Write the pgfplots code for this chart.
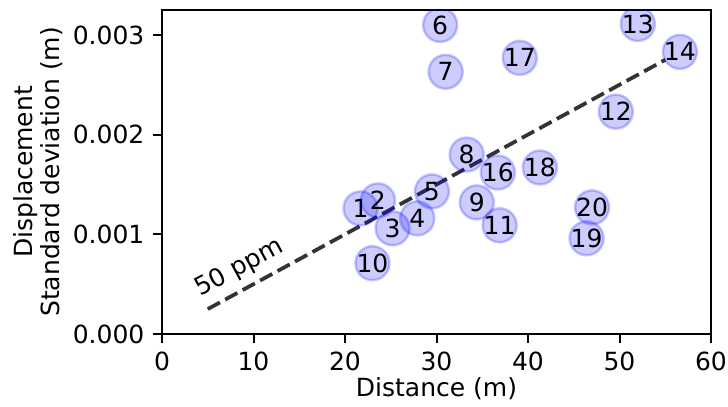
\documentclass[border=0pt]{standalone}
\usepackage{pgfplots}
\pgfplotsset{compat=1.18}
\usepackage{fontspec}
\setmainfont{DejaVu Sans}
\pgfplotstableread{
x y label
21.7 0.00126 1
23.6 0.00134 2
25.2 0.00106 3
27.9 0.00116 4
29.5 0.00143 5
30.4 0.00310 6
31.0 0.00263 7
33.3 0.00180 8
34.4 0.00132 9
23.0 0.00071 10
36.9 0.00109 11
49.6 0.00223 12
52.0 0.00311 13
56.6 0.00283 14
36.7 0.00162 16
39.1 0.00277 17
41.3 0.00167 18
46.4 0.00096 19
47.0 0.00127 20
}\stations
\begin{document}
\begin{tikzpicture}
\useasboundingbox (-64.8pt,-29.2pt) rectangle (226.4pt,133.6pt);
\begin{axis}[
  at={(0,0)}, anchor=south west,
  scale only axis, width=219.6pt, height=129.6pt,
  xmin=0, xmax=60, ymin=0, ymax=0.00325,
  xtick={0,10,20,30,40,50,60},
  ytick={0,0.001,0.002,0.003},
  scaled y ticks=false,
  yticklabel style={/pgf/number format/.cd,fixed,zerofill,precision=3},
  /pgf/number format/assume math mode=true,
  tick align=outside, tick pos=left,
  major tick length=3.5pt,
  every tick/.style={black, line width=0.8pt},
  axis line style={black, line width=0.8pt},
  tick label style={font=\fontsize{10}{12}\selectfont},
  clip marker paths=true,
  xlabel={Distance (m)},
  every axis x label/.style={at={(axis description cs:0.5,0)}, yshift=-21.8pt, anchor=center, font=\fontsize{10}{12}\selectfont},
  ylabel={Displacement\\Standard deviation (m)},
  every axis y label/.style={at={(axis description cs:0,0.5)}, xshift=-49.6pt, rotate=90, anchor=center, align=center, font=\fontsize{10}{10.8}\selectfont},
]
\addplot[black!80, line width=1.5pt, dash pattern=on 5.55pt off 2.4pt] coordinates {(5,0.00025) (55,0.00275)};
\addplot[only marks, mark=*, mark size=6.8pt,
  mark options={fill=blue, fill opacity=0.2, draw=blue, draw opacity=0.22, line width=1pt},
  nodes near coords, point meta=explicit symbolic,
  every node near coord/.style={anchor=center, text=black, opacity=1, text opacity=1, fill opacity=1, draw opacity=1, font=\fontsize{10}{12}\selectfont, inner sep=0pt}]
  table[x=x, y=y, meta=label] {\stations};
\node[rotate=28.3, font=\fontsize{10}{12}\selectfont] at (axis cs:8.5,0.00066) {50 ppm};
\end{axis}
\end{tikzpicture}
\end{document}
